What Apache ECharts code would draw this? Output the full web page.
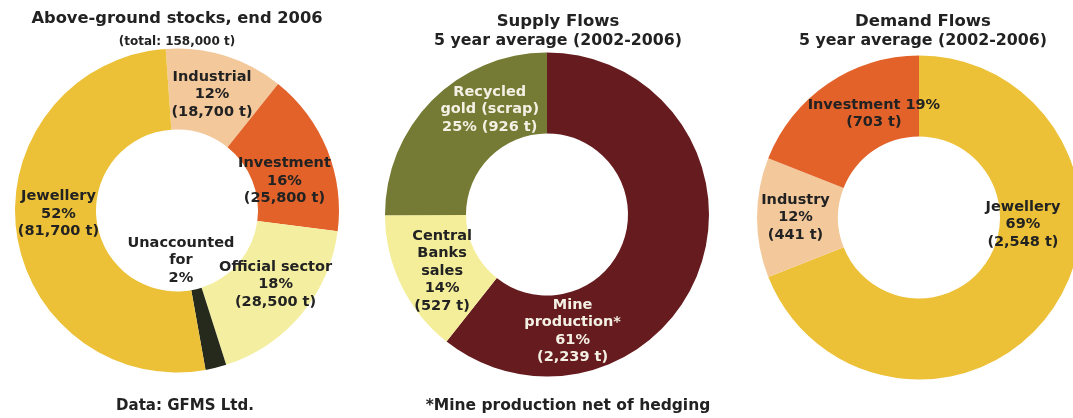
<!DOCTYPE html>
<html>
<head>
<meta charset="utf-8">
<title>Gold: stocks and flows</title>
<script src="https://cdn.jsdelivr.net/npm/echarts@6/dist/echarts.min.js"></script>
<style>
  html, body { margin: 0; padding: 0; background: #fff; }
  #chart { width: 1073px; height: 418px; }
</style>
</head>
<body>
<div id="chart"></div>
<script>
// above-ground stocks, end 2006 (tonnes)
const stockNames = ['Industrial', 'Investment', 'Official sector', 'Unaccounted for', 'Jewellery'];
const stockValues = [18700, 25800, 28500, 3300, 81700];
const stockLabels = ['Industrial\n%p\n(%t t)', 'Investment\n%p\n(%t t)', 'Official sector\n%p\n(%t t)', 'Unaccounted\nfor\n%p', 'Jewellery\n%p\n(%t t)'];

// supply flows, 5 year average 2002-2006 (tonnes)
const supplyNames = ['Mine production', 'Central Banks sales', 'Recycled gold (scrap)'];
const supplyValues = [2239, 527, 926];
const supplyLabels = ['Mine\nproduction*\n%p\n(%t t)', 'Central\nBanks\nsales\n%p\n(%t t)', 'Recycled\ngold (scrap)\n%p (%t t)'];

// demand flows, 5 year average 2002-2006 (tonnes)
const demandNames = ['Jewellery', 'Industry', 'Investment'];
const demandValues = [2548, 441, 703];
const demandLabels = ['Jewellery\n%p\n(%t t)', 'Industry\n%p\n(%t t)', 'Investment %p\n(%t t)'];

const YELLOW = '#ecc137', PEACH = '#f3c89b', ORANGE = '#e2622a';
const stockColors = [PEACH, ORANGE, '#f4efa0', '#262a1c', YELLOW];
const supplyColors = ['#661b1f', '#f4ee9a', '#757b34'];
const demandColors = [YELLOW, PEACH, ORANGE];

// label nudges away from the ring middle, to sit where the original has them
const stockNudge = [[-2, 3], [-8, 17], [3, -6], [-26, -71], [5, -12]];
const supplyNudge = [[-92, 76], [7, 2], [31, -17]];
const demandNudge = [[1, -63], [1, 0], [25, -1]];

const FONT = 'DejaVu Sans';
const DARK = '#222';

function makePie(names, values, labels, colors, nudge, center, startAngle, light) {
    return {
        type: 'pie',
        center: center,
        radius: [81, 162],
        startAngle: startAngle,
        clockwise: true,
        silent: true,
        avoidLabelOverlap: false,
        itemStyle: { borderWidth: 0 },
        label: {
            show: true,
            position: 'inside',
            fontFamily: FONT,
            fontWeight: 'bold',
            fontSize: 14.5,
            lineHeight: 17.5,
            align: 'center',
            formatter: p => labels[p.dataIndex]
                .replace('%p', Math.round(p.percent) + '%')
                .replace('%t', p.value.toLocaleString('en-US'))
        },
        labelLine: { show: false },
        labelLayout: p => ({ dx: nudge[p.dataIndex][0], dy: nudge[p.dataIndex][1] }),
        data: values.map((v, i) => ({
            name: names[i],
            value: v,
            itemStyle: { color: colors[i] },
            label: { color: (light || []).indexOf(i) >= 0 ? '#f4f0e4' : DARK }
        }))
    };
}

const chart = echarts.init(document.getElementById('chart'), null, { renderer: 'canvas' });
chart.setOption({
    backgroundColor: '#fff',
    animation: false,
    title: [
        {
            text: 'Above-ground stocks, end 2006',
            subtext: '(total: 158,000 t)',
            left: 177, top: 9, padding: 0, itemGap: 6, textAlign: 'center',
            textStyle: { fontFamily: FONT, fontWeight: 'bold', fontSize: 16.3, lineHeight: 19, color: DARK },
            subtextStyle: { fontFamily: FONT, fontWeight: 'bold', fontSize: 12, lineHeight: 15, color: DARK }
        },
        {
            text: 'Supply Flows',
            subtext: '5 year average (2002-2006)',
            left: 558, top: 12, padding: 0, itemGap: 0, textAlign: 'center',
            textStyle: { fontFamily: FONT, fontWeight: 'bold', fontSize: 16.5, lineHeight: 19, color: DARK },
            subtextStyle: { fontFamily: FONT, fontWeight: 'bold', fontSize: 15.8, lineHeight: 19, color: DARK }
        },
        {
            text: 'Demand Flows',
            subtext: '5 year average (2002-2006)',
            left: 923, top: 12, padding: 0, itemGap: 0, textAlign: 'center',
            textStyle: { fontFamily: FONT, fontWeight: 'bold', fontSize: 16.5, lineHeight: 19, color: DARK },
            subtextStyle: { fontFamily: FONT, fontWeight: 'bold', fontSize: 15.8, lineHeight: 19, color: DARK }
        },
        {
            text: 'Data: GFMS Ltd.',
            left: 185, top: 397, padding: 0, textAlign: 'center',
            textStyle: { fontFamily: FONT, fontWeight: 'bold', fontSize: 15, lineHeight: 18, color: DARK }
        },
        {
            text: '*Mine production net of hedging',
            left: 568, top: 397, padding: 0, textAlign: 'center',
            textStyle: { fontFamily: FONT, fontWeight: 'bold', fontSize: 15.5, lineHeight: 18, color: DARK }
        }
    ],
    series: [
        makePie(stockNames, stockValues, stockLabels, stockColors, stockNudge, [177, 210.5], 94),
        makePie(supplyNames, supplyValues, supplyLabels, supplyColors, supplyNudge, [547, 214.5], 90, [0, 2]),
        makePie(demandNames, demandValues, demandLabels, demandColors, demandNudge, [919, 217.5], 90)
    ]
});
</script>
</body>
</html>
